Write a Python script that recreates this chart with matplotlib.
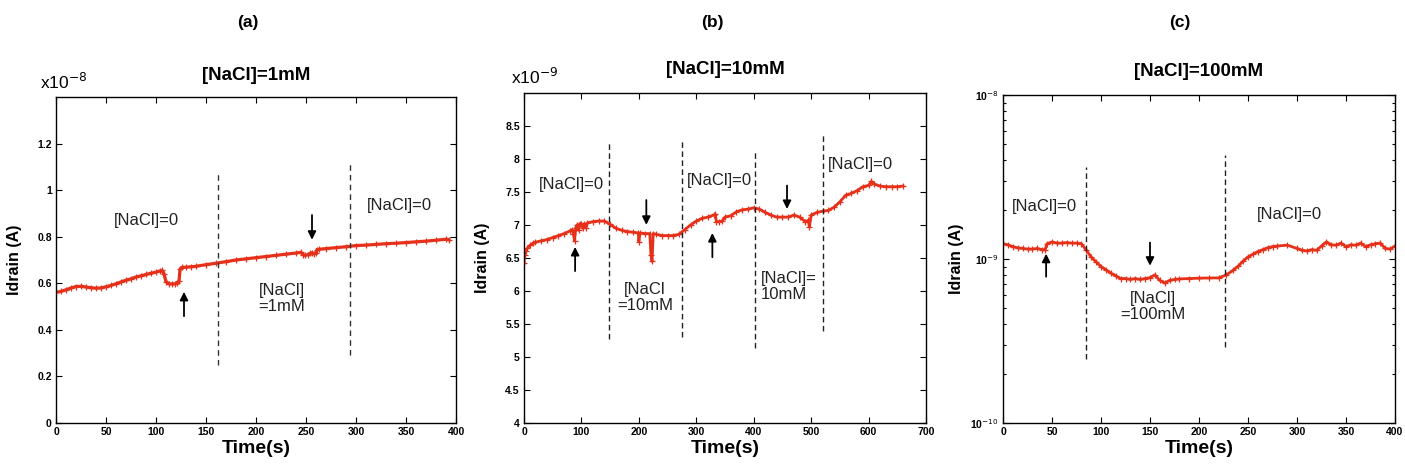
import matplotlib
matplotlib.use("Agg")
import matplotlib.pyplot as plt
import numpy as np

plt.rcParams['font.family'] = ['Liberation Sans', 'DejaVu Sans']

# ---------------- data ----------------
# Panel (a): [NaCl]=1mM, Idrain in units of 1e-8 A
t_a = [0, 5, 10, 15, 20, 25, 30, 35, 40, 45, 50, 55, 60, 65, 70, 75, 80, 85, 90, 95, 100, 104, 106, 108,
       110, 113, 116, 119, 121, 123, 124, 126, 130, 135, 140, 150, 160, 170, 180, 190, 200, 210, 220,
       230, 240, 245, 247, 249, 252, 254, 256, 258, 260, 261, 263, 270, 280, 290, 300, 310, 320, 330,
       340, 350, 360, 370, 380, 390, 393]
i_a = [0.561, 0.565, 0.572, 0.580, 0.586, 0.587, 0.584, 0.581, 0.579, 0.580, 0.585, 0.591, 0.598,
       0.606, 0.613, 0.619, 0.627, 0.632, 0.638, 0.643, 0.648, 0.653, 0.655, 0.640,
       0.607, 0.598, 0.597, 0.598, 0.602, 0.608, 0.660, 0.668, 0.669, 0.671, 0.673, 0.680, 0.686,
       0.693, 0.700, 0.705, 0.710, 0.715, 0.720, 0.725, 0.730, 0.733, 0.722, 0.720, 0.723, 0.728,
       0.731, 0.727, 0.728, 0.745, 0.746, 0.749, 0.753, 0.757, 0.762, 0.764, 0.767, 0.770, 0.772,
       0.775, 0.778, 0.781, 0.785, 0.789, 0.787]
vlines_a = [162, 294]

# Panel (b): [NaCl]=10mM, Idrain in units of 1e-9 A
t_b = [0, 1, 3, 6, 10, 15, 20, 30, 40, 50, 60, 70, 80, 84, 86, 88, 90, 92, 95, 97, 100, 103, 105, 108,
       110, 120, 130, 140, 150, 160, 170, 180, 190, 199, 200, 202, 210, 219, 221, 223, 225, 230, 240,
       250, 260, 270, 280, 290, 300, 310, 320, 330, 333, 335, 340, 345, 350, 360, 370, 380, 390, 400,
       410, 420, 430, 440, 450, 460, 470, 480, 490, 495, 497, 500, 510, 520, 530, 540, 550, 560, 570,
       580, 590, 600, 605, 610, 620, 630, 640, 650, 660]
i_b = [6.42, 6.55, 6.60, 6.65, 6.69, 6.72, 6.74, 6.76, 6.78, 6.81, 6.84, 6.87, 6.91, 6.93, 6.87, 6.76,
       6.95, 7.00, 6.92, 7.02, 7.02, 6.95, 7.02, 6.96, 7.03, 7.05, 7.06, 7.06, 7.01, 6.95, 6.92, 6.90,
       6.89, 6.88, 6.75, 6.88, 6.87, 6.87, 6.55, 6.45, 6.87, 6.86, 6.84, 6.84, 6.84, 6.86, 6.93, 7.00,
       7.06, 7.10, 7.12, 7.15, 7.16, 7.05, 7.05, 7.06, 7.12, 7.14, 7.20, 7.23, 7.24, 7.26, 7.24, 7.19,
       7.15, 7.12, 7.12, 7.12, 7.15, 7.12, 7.05, 7.07, 6.97, 7.15, 7.19, 7.21, 7.22, 7.27, 7.35, 7.45,
       7.48, 7.52, 7.58, 7.60, 7.66, 7.62, 7.59, 7.58, 7.58, 7.58, 7.59]
vlines_b = [148, 275, 403, 521]

# Panel (c): [NaCl]=100mM, Idrain in units of 1e-9 A (log scale)
t_c = [0, 5, 10, 15, 20, 25, 30, 35, 40, 43, 45, 50, 55, 60, 65, 70, 75, 80, 85, 90, 95, 100, 105, 110,
       115, 120, 125, 130, 135, 140, 145, 150, 155, 160, 165, 170, 175, 180, 190, 200, 210, 220, 228,
       235, 240, 245, 250, 255, 260, 265, 270, 275, 280, 290, 300, 305, 310, 315, 320, 325, 330, 335,
       340, 345, 350, 355, 360, 365, 370, 375, 380, 385, 390, 395, 400]
i_c = [1.24, 1.22, 1.19, 1.17, 1.16, 1.15, 1.15, 1.16, 1.14, 1.14, 1.24, 1.27, 1.25, 1.25, 1.26, 1.25,
       1.25, 1.24, 1.13, 1.03, 0.96, 0.90, 0.86, 0.82, 0.79, 0.76, 0.76, 0.75, 0.76, 0.75, 0.76, 0.77,
       0.80, 0.74, 0.715, 0.74, 0.75, 0.756, 0.76, 0.764, 0.766, 0.767, 0.80, 0.855, 0.905, 0.97, 1.03,
       1.07, 1.11, 1.14, 1.17, 1.19, 1.20, 1.215, 1.16, 1.13, 1.12, 1.14, 1.13, 1.20, 1.27, 1.22, 1.215,
       1.25, 1.19, 1.22, 1.215, 1.25, 1.19, 1.22, 1.24, 1.25, 1.16, 1.15, 1.20]
vlines_c = [85, 227]

RED = '#e6301a'
LW = 2.3
MS = 4

fig = plt.figure(figsize=(14.05, 4.71), dpi=100)
W, H = 1405, 471

def ax_at(l, t, r, b):
    return fig.add_axes([l / W, 1 - b / H, (r - l) / W, (b - t) / H])

def style(ax):
    ax.tick_params(direction='in', which='both', top=True, right=True, labelsize=7.5,
                   length=4, width=0.8, pad=3)
    ax.tick_params(which='minor', length=2.5)
    for lab in ax.get_xticklabels() + ax.get_yticklabels():
        lab.set_fontweight('bold')
    for s in ax.spines.values():
        s.set_linewidth(1.0)
    ax.set_xlabel('Time(s)', fontsize=14, fontweight='bold', labelpad=2)
    ax.set_ylabel('Idrain (A)', fontsize=11.5, fontweight='bold', labelpad=4)

def arrow(ax, x, y0, y1):
    ax.annotate('', xy=(x, y1), xytext=(x, y0),
                arrowprops=dict(arrowstyle='-|>', color='black', lw=1.3, mutation_scale=12))

TXT = dict(fontsize=12, color='#222222')
TITLE = dict(fontsize=13.5, fontweight='bold')

# ---- (a)
ax = ax_at(56, 97, 456, 423)
ax.plot(t_a, i_a, '-', color=RED, lw=LW, marker='+', ms=MS, mew=0.9)
ax.set_xlim(0, 400); ax.set_ylim(0, 1.4)
ax.set_xticks(range(0, 401, 50))
ax.set_yticks([0, 0.2, 0.4, 0.6, 0.8, 1.0, 1.2])
ax.set_yticklabels(['0', '0.2', '0.4', '0.6', '0.8', '1', '1.2'])
style(ax)
ax.yaxis.set_label_coords(-0.085, 0.5)
ax.vlines(vlines_a[0], 0.25, 1.07, colors='#333333', linestyles=(0, (4, 3)), lw=1.0)
ax.vlines(vlines_a[1], 0.29, 1.12, colors='#333333', linestyles=(0, (4, 3)), lw=1.0)
ax.text(90, 0.87, '[NaCl]=0', ha='center', va='center', **TXT)
ax.text(343, 0.933, '[NaCl]=0', ha='center', va='center', **TXT)
ax.text(226, 0.535, '[NaCl]\n=1mM', ha='center', va='center', linespacing=1.1, **TXT)
arrow(ax, 128, 0.447, 0.575)
arrow(ax, 256, 0.905, 0.775)
ax.set_title('[NaCl]=1mM', pad=12, **TITLE)
fig.text(40 / W, 1 - 82 / H, r'x10$^{-8}$', fontsize=12.5, ha='left', va='center')
fig.text(248 / W, 1 - 22 / H, '(a)', fontsize=12.5, fontweight='bold', ha='center', va='center')

# ---- (b)
ax = ax_at(524, 93, 926, 423)
ax.plot(t_b, i_b, '-', color=RED, lw=LW - 0.3, marker='+', ms=MS, mew=0.9)
ax.set_xlim(0, 700); ax.set_ylim(4, 9)
ax.set_xticks(range(0, 701, 100))
ax.set_yticks([4, 4.5, 5, 5.5, 6, 6.5, 7, 7.5, 8, 8.5])
ax.set_yticklabels(['4', '4.5', '5', '5.5', '6', '6.5', '7', '7.5', '8', '8.5'])
style(ax)
ax.yaxis.set_label_coords(-0.085, 0.5)
for x, lo, hi in zip(vlines_b, [5.28, 5.30, 5.13, 5.40], [8.27, 8.29, 8.12, 8.39]):
    ax.vlines(x, lo, hi, colors='#222222', linestyles=(0, (4, 2.5)), lw=1.0)
ax.text(82, 7.61, '[NaCl]=0', ha='center', va='center', **TXT)
ax.text(341, 7.67, '[NaCl]=0', ha='center', va='center', **TXT)
ax.text(586, 7.91, '[NaCl]=0', ha='center', va='center', **TXT)
ax.text(211, 5.9, '[NaCl\n=10mM', ha='center', va='center', linespacing=1.1, **TXT)
ax.text(412, 6.07, '[NaCl]=\n10mM', ha='left', va='center', linespacing=1.1, **TXT)
arrow(ax, 89, 6.26, 6.71)
arrow(ax, 213, 7.42, 6.96)
arrow(ax, 328, 6.47, 6.92)
arrow(ax, 458, 7.64, 7.2)
ax.set_title('[NaCl]=10mM', pad=14, **TITLE)
fig.text(511 / W, 1 - 77 / H, r'x10$^{-9}$', fontsize=12.5, ha='left', va='center')
fig.text(712 / W, 1 - 22 / H, '(b)', fontsize=12.5, fontweight='bold', ha='center', va='center')

# ---- (c)
ax = ax_at(1003, 95, 1395, 423)
ax.semilogy(t_c, np.array(i_c) * 1e-9, '-', color=RED, lw=LW - 0.3, marker='+', ms=MS, mew=0.9)
ax.set_xlim(0, 400); ax.set_ylim(1e-10, 1e-8)
ax.set_xticks(range(0, 401, 50))
ax.set_yticks([1e-10, 1e-9, 1e-8])
ax.set_yticklabels([r'10$^{-10}$', r'10$^{-9}$', r'10$^{-8}$'])
style(ax)
ax.yaxis.set_label_coords(-0.1, 0.5)
ax.vlines(vlines_c[0], 2.47e-10, 3.65e-9, colors='#222222', linestyles=(0, (4, 2.5)), lw=1.0)
ax.vlines(vlines_c[1], 2.91e-10, 4.3e-9, colors='#222222', linestyles=(0, (4, 2.5)), lw=1.0)
ax.text(42, 2.09e-9, '[NaCl]=0', ha='center', va='center', **TXT)
ax.text(292, 1.88e-9, '[NaCl]=0', ha='center', va='center', **TXT)
ax.text(153, 5.15e-10, '[NaCl]\n=100mM', ha='center', va='center', linespacing=1.1, **TXT)
arrow(ax, 44, 7.5e-10, 1.12e-9)
arrow(ax, 150, 1.31e-9, 8.75e-10)
ax.set_title('[NaCl]=100mM', pad=14, **TITLE)
fig.text(1180 / W, 1 - 22 / H, '(c)', fontsize=12.5, fontweight='bold', ha='center', va='center')

fig.savefig('out.png', dpi=100)
